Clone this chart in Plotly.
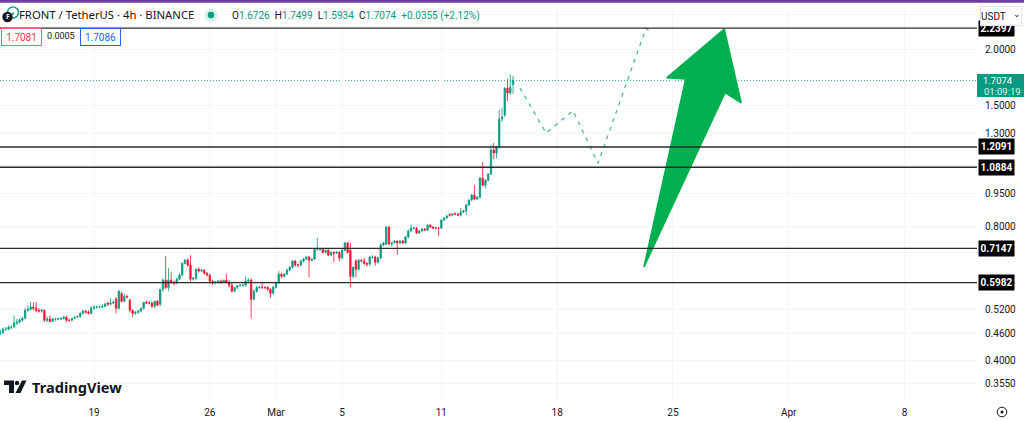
import math
import pandas as pd
import plotly.graph_objects as go

# ---------- data ----------
bar_start = "2024-02-13 04:00"
opens = [
 .459,.460,.462,.470,.470,.475,.475,.485,.487,.492,
 .497,.518,.521,.527,.524,.518,.516,.518,.492,.495,
 .489,.495,.495,.496,.497,.500,.492,.492,.497,.500,
 .502,.510,.516,.513,.510,.524,.527,.527,.527,.529,
 .538,.535,.538,.549,.524,.565,.543,.557,.546,.518,
 .510,.513,.516,.524,.540,.538,.538,.529,.543,.535,
 .578,.606,.583,.606,.600,.597,.609,.622,.661,.672,
 .655,.609,.612,.641,.635,.638,.628,.622,.603,.597,
 .600,.603,.600,.606,.600,.590,.572,.583,.589,.590,
 .590,.603,.606,.549,.572,.583,.584,.583,.583,.578,
 .566,.584,.597,.625,.618,.625,.638,.648,.669,.655,
 .655,.669,.676,.683,.672,.676,.711,.711,.711,.700,
 .708,.690,.700,.697,.700,.680,.708,.735,.708,.618,
 .669,.641,.672,.669,.661,.658,.683,.683,.665,.680,
 .727,.731,.798,.731,.735,.742,.735,.742,.735,.758,
 .782,.794,.794,.774,.782,.790,.786,.806,.798,.794,
 .794,.794,.828,.837,.852,.849,.856,.854,.849,.863,
 .868,.895,.918,.942,.923,.932,1.029,.992,1.018,1.05,
 1.19,1.172,1.209,1.398,1.427,1.640,1.600,1.6726]
closes = [
 .460,.462,.470,.470,.475,.475,.485,.487,.492,.497,
 .518,.521,.527,.524,.518,.516,.518,.492,.495,.489,
 .495,.495,.496,.497,.500,.492,.492,.497,.500,.502,
 .510,.516,.513,.510,.524,.527,.527,.527,.529,.535,
 .535,.538,.540,.524,.572,.543,.557,.555,.518,.510,
 .513,.516,.524,.540,.538,.538,.529,.543,.532,.578,
 .606,.583,.606,.600,.597,.609,.622,.661,.672,.655,
 .609,.612,.641,.635,.638,.628,.622,.603,.597,.600,
 .603,.600,.606,.600,.590,.572,.583,.589,.590,.590,
 .603,.606,.549,.572,.583,.584,.583,.583,.578,.566,
 .584,.597,.625,.618,.625,.638,.648,.669,.655,.655,
 .669,.676,.683,.672,.676,.711,.711,.711,.700,.708,
 .690,.700,.697,.700,.680,.708,.735,.700,.618,.648,
 .641,.672,.669,.661,.658,.683,.683,.665,.680,.727,
 .735,.798,.731,.735,.742,.735,.742,.735,.758,.782,
 .794,.794,.774,.782,.790,.786,.806,.798,.794,.794,
 .794,.828,.837,.845,.849,.854,.854,.849,.863,.868,
 .895,.918,.942,.923,.932,1.029,.992,1.018,1.05,1.19,
 1.172,1.209,1.398,1.413,1.640,1.600,1.648,1.7074]
highs = [
 .463,.468,.474,.475,.479,.479,.505,.495,.497,.501,
 .525,.532,.541,.540,.541,.524,.522,.520,.502,.505,
 .498,.499,.499,.500,.503,.504,.496,.497,.501,.504,
 .514,.520,.519,.518,.530,.531,.531,.531,.535,.540,
 .541,.552,.546,.555,.576,.570,.565,.561,.550,.520,
 .516,.518,.521,.528,.545,.543,.542,.536,.547,.541,
 .612,.686,.645,.632,.604,.614,.628,.665,.677,.680,
 .690,.616,.645,.648,.642,.640,.632,.626,.607,.602,
 .606,.608,.606,.625,.606,.598,.576,.589,.593,.595,
 .618,.612,.612,.578,.588,.589,.600,.588,.587,.582,
 .589,.602,.635,.630,.630,.643,.652,.672,.673,.660,
 .673,.680,.688,.688,.678,.716,.755,.716,.716,.708,
 .712,.704,.704,.705,.704,.712,.739,.739,.735,.623,
 .675,.677,.677,.680,.665,.688,.690,.688,.685,.735,
 .739,.802,.802,.737,.745,.745,.746,.746,.762,.788,
 .810,.798,.798,.786,.794,.794,.812,.810,.802,.798,
 .798,.832,.840,.850,.857,.858,.860,.858,.881,.873,
 .900,.922,.948,.992,.936,1.034,1.118,1.024,1.056,1.222,
 1.235,1.216,1.465,1.48,1.65,1.72,1.765,1.7499]
lows = [
 .456,.455,.458,.466,.467,.470,.473,.480,.484,.489,
 .495,.514,.517,.518,.513,.512,.512,.488,.487,.488,
 .488,.490,.491,.492,.494,.487,.488,.491,.495,.498,
 .499,.507,.510,.507,.507,.520,.523,.523,.524,.526,
 .530,.532,.535,.510,.520,.540,.540,.551,.512,.500,
 .506,.508,.512,.520,.536,.534,.525,.523,.530,.529,
 .570,.578,.572,.595,.590,.593,.605,.618,.658,.650,
 .602,.604,.606,.630,.632,.623,.617,.594,.590,.595,
 .598,.595,.600,.595,.583,.570,.570,.578,.585,.585,
 .586,.600,.497,.546,.568,.579,.578,.578,.573,.552,
 .562,.580,.594,.612,.615,.622,.634,.644,.650,.648,
 .650,.664,.672,.615,.668,.672,.706,.706,.695,.695,
 .686,.686,.665,.694,.668,.676,.703,.695,.583,.612,
 .615,.636,.664,.655,.650,.654,.678,.653,.660,.676,
 .722,.727,.727,.722,.735,.692,.730,.730,.730,.752,
 .778,.788,.770,.770,.778,.782,.782,.795,.790,.788,
 .762,.790,.823,.833,.842,.845,.848,.845,.842,.857,
 .849,.890,.913,.918,.918,.926,.985,.975,1.010,1.045,
 1.135,1.14,1.20,1.377,1.41,1.535,1.585,1.5934]

level_values = [2.2397, 1.2091, 1.0884, 0.7147, 0.5982]
level_labels = ["2.2397", "1.2091", "1.0884", "0.7147", "0.5982"]

forecast_dates = ["2024-03-15 18:00", "2024-03-17 08:00", "2024-03-18 23:00",
                  "2024-03-20 11:20", "2024-03-23 09:00", "2024-03-23 15:00"]
forecast_prices = [1.642, 1.30, 1.46, 1.111, 2.24, 2.20]

arrow_dates = ["2024-03-28 02:30", "2024-03-29 03:00", "2024-03-28 03:36",
               "2024-03-23 06:00", "2024-03-25 18:30", "2024-03-24 15:00",
               "2024-03-28 02:30"]
arrow_prices = [2.23, 1.521, 1.603, 0.649, 1.72, 1.732, 2.23]

x_tick_dates = ["2024-02-19", "2024-02-26", "2024-03-01", "2024-03-05", "2024-03-11",
                "2024-03-18", "2024-03-25", "2024-04-01", "2024-04-08"]
x_tick_labels = ["19", "26", "Mar", "5", "11", "18", "25", "Apr", "8"]
y_tick_values = [2.4, 2.0, 1.7, 1.5, 1.3, 1.1, 0.95, 0.8, 0.7, 0.6, 0.52, 0.46, 0.40, 0.355]
y_tick_labels = ["", "2.0000", "", "1.5000", "1.3000", "", "0.9500", "0.8000", "", "",
                 "0.5200", "0.4600", "0.4000", "0.3550"]
last_price = 1.7074

# ---------- style ----------
UP = "#089981"
DOWN = "#F7102F"
INK = "#131722"
FONT = "Noto Sans, sans-serif"
NUM = "Roboto, sans-serif"
W, H = 1024, 421
ML, MR, MT, MB = 0, 47, 4, 19
PW, PH = W - ML - MR, H - MT - MB


def px(x):
    return (x - ML) / PW


def py(y):
    return (H - MB - y) / PH


dates = pd.date_range(bar_start, periods=len(closes), freq="4h")

fig = go.Figure()
fig.add_trace(go.Candlestick(
    x=dates, open=opens, high=highs, low=lows, close=closes,
    increasing=dict(line=dict(color=UP, width=0.8), fillcolor=UP),
    decreasing=dict(line=dict(color=DOWN, width=0.8), fillcolor=DOWN),
    whiskerwidth=0, hoverinfo="skip", showlegend=False,
))
fig.add_trace(go.Scatter(
    x=forecast_dates, y=forecast_prices, mode="lines",
    line=dict(color="#3DBB7C", width=1.2, dash="4px,5px"),
    hoverinfo="skip", showlegend=False,
))
fig.add_trace(go.Scatter(
    x=arrow_dates, y=arrow_prices, mode="lines", fill="toself",
    fillcolor="#00B050", line=dict(color="#00B050", width=1.5),
    hoverinfo="skip", showlegend=False,
))

shapes = []
for v in level_values:
    shapes.append(dict(type="line", xref="paper", x0=0, x1=1, yref="y", y0=v, y1=v,
                       line=dict(color="#2B2B2B", width=1.4), layer="above"))
shapes.append(dict(type="line", xref="paper", x0=0, x1=1, yref="y", y0=last_price, y1=last_price,
                   line=dict(color=UP, width=0.8, dash="1px,2px"), layer="below"))


def rect(x0, y0, x1, y1, color, line=None):
    shapes.append(dict(type="rect", xref="paper", yref="paper",
                       x0=px(x0), x1=px(x1), y0=py(y1), y1=py(y0),
                       fillcolor=color, line=dict(width=0) if line is None else line,
                       layer="above"))


def circle(cx, cy, r, color, line=None):
    shapes.append(dict(type="circle", xref="paper", yref="paper",
                       x0=px(cx - r), x1=px(cx + r), y0=py(cy + r), y1=py(cy - r),
                       fillcolor=color, line=dict(width=0) if line is None else line,
                       layer="above"))


def poly(points, color):
    path = "M " + " L ".join(f"{px(x):.5f},{py(y):.5f}" for x, y in points) + " Z"
    shapes.append(dict(type="path", xref="paper", yref="paper", path=path,
                       fillcolor=color, line=dict(width=0), layer="above"))


# top accent, price-tag and header glyphs
rect(0, 0, W, 2.8, "#6B3FA0")
rect(977, 74, W, 97, UP)
circle(13, 12.5, 5.5, "rgba(0,0,0,0)", dict(color="#1FA38F", width=1.6))
circle(13.5, 14, 3, "#ffffff")
circle(13, 13.5, 1.2, "#1FA38F")
circle(7.5, 17, 5.2, "#131722")
circle(211, 15, 6.5, "#D6EFEA")
circle(211, 15, 3.2, UP)
# TradingView mark
rect(4, 380.5, 14, 385, "#131722")
rect(9, 385, 14, 393, "#131722")
circle(17, 383, 2.2, "#131722")
poly([(22, 380.5), (26.5, 380.5), (20.5, 393), (15.5, 393)], "#131722")
# settings glyph
circle(1002, 412, 4.8, "#ffffff", dict(color="#131722", width=1))
circle(1002, 412, 1.5, "#131722")

annotations = []


def note(x, y, text, size=11, color=INK, anchor="left", **kw):
    annotations.append(dict(xref="paper", yref="paper", x=px(x), y=py(y), text=text,
                            showarrow=False, xanchor=anchor, yanchor="middle",
                            font=dict(family=kw.pop("family", FONT), size=size, color=color), **kw))


note(4.5, 17, "<b>F</b>", size=6.5, color="#ffffff", borderpad=0)
note(18, 15, "FRONT / TetherUS · 4h · BINANCE", size=11.3, borderpad=0)
ohlc = ("O<span style='color:{u}'>1.6726</span>\u2002H<span style='color:{u}'>1.7499</span>\u2002"
        "L<span style='color:{u}'>1.5934</span>\u2002C<span style='color:{u}'>1.7074</span>\u2002"
        "<span style='color:{u}'>+0.0355 (+2.12%)</span>").format(u=UP)
note(231, 15.5, ohlc, size=10, borderpad=0, family=NUM)
note(21.5, 36.5, "1.7081", size=10, color="#F23645", anchor="center", bgcolor="#ffffff", family=NUM,
     bordercolor="#F7667C", borderwidth=1, width=39, height=16, borderpad=0)
note(60.5, 36, "0.0005", size=9, anchor="center", borderpad=0, family=NUM)
note(100.5, 36.5, "1.7086", size=10, color="#2962FF", anchor="center", bgcolor="#ffffff", family=NUM,
     bordercolor="#2962FF", borderwidth=1, width=39, height=16, borderpad=0)
note(31, 387, "<b>TradingView</b>", size=14.6, borderpad=0)
note(998, 80.5, "1.7074", size=9.5, color="#ffffff", anchor="center", borderpad=0, family=NUM)
note(1002, 91, "01:09:19", size=9.5, color="#DDF3EE", anchor="center", borderpad=0, family=NUM)

for v, lab in zip(level_values, level_labels):
    annotations.append(dict(xref="paper", yref="y", x=px(996.5), y=math.log10(v), text=f"<b>{lab}</b>",
                            showarrow=False, xanchor="center", yanchor="middle", bgcolor="#000000",
                            width=35, height=15, borderpad=0,
                            font=dict(family=NUM, size=10, color="#ffffff")))
note(1001, 16, "USDT", size=10, anchor="center", bgcolor="#ffffff", bordercolor="#E0E3EB",
     borderwidth=1, width=40, height=18, borderpad=0, align="left", family=NUM)
note(1017, 14.5, "⌄", size=9, anchor="center", family="DejaVu Sans", borderpad=0)

fig.update_layout(
    width=W, height=H, autosize=False,
    margin=dict(l=ML, r=MR, t=MT, b=MB),
    paper_bgcolor="#ffffff", plot_bgcolor="#ffffff",
    font=dict(family=FONT, size=10.5, color=INK),
    shapes=shapes, annotations=annotations, showlegend=False,
    xaxis=dict(
        type="date", range=["2024-02-13 07:36", "2024-04-12 09:13"],
        rangeslider=dict(visible=False),
        tickmode="array", tickvals=x_tick_dates, ticktext=x_tick_labels,
        showgrid=True, gridcolor="#F3F4F6", gridwidth=1, zeroline=False, showline=False,
        ticks="outside", ticklen=1, tickcolor="#ffffff",
        tickfont=dict(family=NUM, size=10, color=INK),
    ),
    yaxis=dict(
        type="log", side="right", range=[math.log10(0.322), math.log10(2.539)],
        tickmode="array", tickvals=y_tick_values, ticktext=y_tick_labels,
        showgrid=True, gridcolor="#F3F4F6", gridwidth=1, zeroline=False, showline=False,
        ticks="outside", ticklen=5, tickcolor="#ffffff",
        tickfont=dict(family=NUM, size=10, color=INK),
    ),
)
fig.write_html("out.html", config=dict(displayModeBar=False),
               post_script="document.body.style.margin='0';document.documentElement.style.overflow='hidden';")
